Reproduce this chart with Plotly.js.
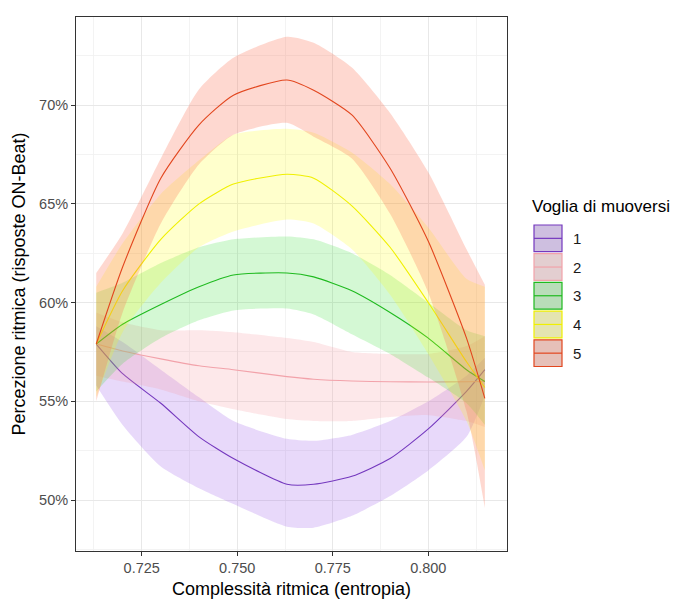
<!DOCTYPE html>
<html>
<head>
<meta charset="utf-8">
<script src="https://cdn.plot.ly/plotly-3.0.1.min.js"></script>
<style>
  html, body { margin: 0; padding: 0; background: #ffffff; }
  #chart { width: 684px; height: 603px; }
</style>
</head>
<body>
<div id="chart"></div>
<script>
// Entropy values at which the smoothed curves are evaluated
const entropy = [0.7131, 0.72, 0.73, 0.74, 0.749, 0.763, 0.77, 0.78, 0.79, 0.80, 0.81, 0.8148];

// Group labels ("Voglia di muoversi")
const groups = ['1', '2', '3', '4', '5'];

// Fitted proportion of ON-beat responses, one array per group
const fit1 = [0.579, 0.564, 0.549, 0.532, 0.521, 0.508, 0.508, 0.512, 0.521, 0.536, 0.555, 0.566];
const fit2 = [0.579, 0.5755, 0.5715, 0.568, 0.566, 0.5625, 0.5612, 0.5603, 0.5599, 0.5598, 0.5599, 0.560];
const fit3 = [0.579, 0.589, 0.599, 0.608, 0.614, 0.615, 0.613, 0.606, 0.595, 0.582, 0.566, 0.560];
const fit4 = [0.579, 0.606, 0.632, 0.650, 0.660, 0.665, 0.663, 0.649, 0.628, 0.600, 0.570, 0.557];
const fit5 = [0.579, 0.618, 0.663, 0.690, 0.705, 0.7127, 0.7075, 0.695, 0.668, 0.631, 0.582, 0.5515];

// Confidence band limits
const lo1 = [0.558, 0.538, 0.517, 0.506, 0.498, 0.4865, 0.486, 0.492, 0.502, 0.515, 0.532, 0.553];
const hi1 = [0.588, 0.580, 0.566, 0.552, 0.540, 0.531, 0.530, 0.533, 0.540, 0.550, 0.563, 0.572];
const lo2 = [0.563, 0.560, 0.556, 0.550, 0.546, 0.541, 0.540, 0.540, 0.542, 0.543, 0.540, 0.537];
const hi2 = [0.595, 0.590, 0.586, 0.586, 0.585, 0.582, 0.580, 0.575, 0.574, 0.574, 0.578, 0.583];
const lo3 = [0.555, 0.569, 0.582, 0.591, 0.596, 0.597, 0.594, 0.584, 0.574, 0.562, 0.549, 0.538];
const hi3 = [0.605, 0.610, 0.620, 0.628, 0.632, 0.6335, 0.632, 0.625, 0.614, 0.600, 0.586, 0.583];
const lo4 = [0.552, 0.585, 0.610, 0.628, 0.636, 0.642, 0.640, 0.627, 0.604, 0.574, 0.540, 0.515];
const hi4 = [0.608, 0.630, 0.655, 0.672, 0.685, 0.688, 0.686, 0.676, 0.660, 0.638, 0.612, 0.608];
const lo5 = [0.550, 0.595, 0.640, 0.670, 0.685, 0.691, 0.684, 0.673, 0.645, 0.605, 0.545, 0.496];
const hi5 = [0.615, 0.635, 0.673, 0.708, 0.724, 0.7346, 0.7315, 0.719, 0.696, 0.666, 0.627, 0.609];

// Axis ticks
const xTicks = [0.725, 0.75, 0.775, 0.8];
const yTicks = [0.50, 0.55, 0.60, 0.65, 0.70];

const fits = [fit1, fit2, fit3, fit4, fit5];
const lows = [lo1, lo2, lo3, lo4, lo5];
const highs = [hi1, hi2, hi3, hi4, hi5];

const lineColors = ['#7438BE', '#F2A2AA', '#1FBA1F', '#F0F000', '#E2461E'];
const bandColors = [
  'rgba(150,80,230,0.22)',
  'rgba(245,150,160,0.22)',
  'rgba(40,220,40,0.20)',
  'rgba(255,255,0,0.20)',
  'rgba(250,110,80,0.27)'
];

// Each group: band (lower edge + filled upper edge), then its fitted line
const traces = [];
groups.forEach((g, i) => {
  traces.push({
    x: entropy, y: lows[i], type: 'scatter', mode: 'lines',
    line: { width: 0, shape: 'spline', smoothing: 0.6 },
    showlegend: false, hoverinfo: 'skip'
  });
  traces.push({
    x: entropy, y: highs[i], type: 'scatter', mode: 'lines',
    fill: 'tonexty', fillcolor: bandColors[i],
    line: { width: 0, shape: 'spline', smoothing: 0.6 },
    showlegend: false, hoverinfo: 'skip'
  });
  traces.push({
    x: entropy, y: fits[i], type: 'scatter', mode: 'lines',
    name: g,
    line: { color: lineColors[i], width: 1.1, shape: 'spline', smoothing: 0.6 },
    showlegend: false
  });
});

// Layout geometry in pixels
const W = 684, H = 603;
const M = { l: 76, r: 177, t: 17, b: 52 };
const PW = W - M.l - M.r, PH = H - M.t - M.b;
const px = v => (v - M.l) / PW;
const py = v => (H - M.b - v) / PH;

// Legend: square keys with band fill, outline and centre line
const shapes = [];
const annotations = [];
const keyLeft = 534, keyRight = 562, keyTop0 = 225, keyStep = 28.7, keyH = 26.7;
groups.forEach((g, i) => {
  const top = keyTop0 + i * keyStep;
  const bot = top + keyH;
  const mid = (top + bot) / 2;
  shapes.push({
    type: 'rect', xref: 'paper', yref: 'paper',
    x0: px(keyLeft), x1: px(keyRight), y0: py(bot), y1: py(top),
    fillcolor: '#DEDEDE', line: { width: 0 }, layer: 'above'
  });
  shapes.push({
    type: 'rect', xref: 'paper', yref: 'paper',
    x0: px(keyLeft), x1: px(keyRight), y0: py(bot), y1: py(top),
    fillcolor: bandColors[i], line: { color: lineColors[i], width: 1.2 }, layer: 'above'
  });
  shapes.push({
    type: 'line', xref: 'paper', yref: 'paper',
    x0: px(keyLeft), x1: px(keyRight), y0: py(mid), y1: py(mid),
    line: { color: lineColors[i], width: 1.2 }, layer: 'above'
  });
  annotations.push({
    xref: 'paper', yref: 'paper', x: px(571), y: py(mid),
    xanchor: 'left', yanchor: 'middle', showarrow: false,
    text: g, font: { family: 'Liberation Sans, Arial, sans-serif', size: 15, color: '#1A1A1A' }
  });
});
annotations.push({
  xref: 'paper', yref: 'paper', x: px(530), y: py(206),
  xanchor: 'left', yanchor: 'middle', showarrow: false,
  text: 'Voglia di muoversi',
  font: { family: 'Liberation Sans, Arial, sans-serif', size: 17, color: '#000000' }
});

const layout = {
  width: W, height: H,
  margin: M,
  paper_bgcolor: '#ffffff',
  plot_bgcolor: '#ffffff',
  showlegend: false,
  font: { family: 'Liberation Sans, Arial, sans-serif' },
  xaxis: {
    range: [0.7078, 0.8206],
    tickvals: xTicks, tickformat: '.3f',
    ticks: 'outside', ticklen: 4, tickcolor: '#333333', tickwidth: 1,
    tickfont: { size: 14.5, color: '#4D4D4D' },
    showline: true, mirror: true, linecolor: '#333333', linewidth: 1,
    showgrid: true, gridcolor: '#E8E8E8', gridwidth: 1,
    minor: { tick0: 0.7125, dtick: 0.025, showgrid: true, gridcolor: '#F0F0F0', gridwidth: 0.8 },
    zeroline: false,
    title: { text: 'Complessità ritmica (entropia)', font: { size: 18, color: '#000000' }, standoff: 6 }
  },
  yaxis: {
    range: [0.4742, 0.7446],
    tickvals: yTicks, tickformat: '.0%',
    ticks: 'outside', ticklen: 4, tickcolor: '#333333', tickwidth: 1,
    tickfont: { size: 14.5, color: '#4D4D4D' },
    showline: true, mirror: true, linecolor: '#333333', linewidth: 1,
    showgrid: true, gridcolor: '#E8E8E8', gridwidth: 1,
    minor: { tick0: 0.475, dtick: 0.05, showgrid: true, gridcolor: '#F0F0F0', gridwidth: 0.8 },
    zeroline: false,
    title: { text: 'Percezione ritmica (risposte ON-Beat)', font: { size: 18, color: '#000000' }, standoff: 8 }
  },
  shapes: shapes,
  annotations: annotations
};

Plotly.newPlot('chart', traces, layout, { staticPlot: true, displayModeBar: false });
</script>
</body>
</html>
